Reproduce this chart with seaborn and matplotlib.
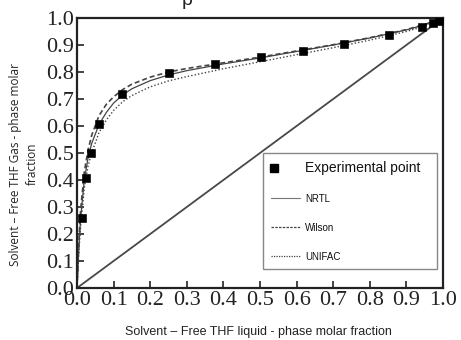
import matplotlib
matplotlib.use("Agg")
import matplotlib.pyplot as plt
import seaborn as sns
from matplotlib.lines import Line2D
from matplotlib.legend_handler import HandlerLine2D

# Experimental points
exp_x = [0.013, 0.025, 0.038, 0.060, 0.123, 0.250, 0.377, 0.503, 0.617, 0.730, 0.853, 0.942, 0.973, 0.990]
exp_y = [0.260, 0.407, 0.500, 0.607, 0.718, 0.796, 0.830, 0.855, 0.878, 0.904, 0.937, 0.967, 0.980, 0.990]

# Model curves
curve_x = [0.0, 0.005, 0.01, 0.02, 0.03, 0.04, 0.06, 0.08, 0.10, 0.125, 0.15, 0.20, 0.25, 0.30, 0.40, 0.50, 0.60, 0.70, 0.80, 0.90, 0.95, 1.0]
nrtl_y = [0.0, 0.15, 0.26, 0.40, 0.48, 0.535, 0.605, 0.65, 0.685, 0.715, 0.738, 0.768, 0.789, 0.805, 0.830, 0.852, 0.876, 0.900, 0.926, 0.956, 0.975, 1.0]
wilson_y = [0.0, 0.17, 0.29, 0.43, 0.51, 0.565, 0.638, 0.68, 0.708, 0.735, 0.755, 0.781, 0.800, 0.813, 0.834, 0.855, 0.878, 0.901, 0.927, 0.957, 0.976, 1.0]
unifac_y = [0.0, 0.13, 0.23, 0.37, 0.45, 0.50, 0.575, 0.622, 0.658, 0.690, 0.713, 0.745, 0.767, 0.783, 0.812, 0.838, 0.864, 0.890, 0.918, 0.950, 0.970, 1.0]
diag = [0.0, 1.0]

xticks = [0.0, 0.1, 0.2, 0.3, 0.4, 0.5, 0.6, 0.7, 0.8, 0.9, 1.0]
yticks = [0.0, 0.1, 0.2, 0.3, 0.4, 0.5, 0.6, 0.7, 0.8, 0.9, 1.0]
legend_labels = ["Experimental point", "NRTL", "Wilson", "UNIFAC"]

sns.set_style("white")
plt.rcParams['font.family'] = ['Liberation Sans', 'DejaVu Sans']

fig = plt.figure(figsize=(4.61, 3.40), dpi=100)
ax = fig.add_axes([77/461, 1 - 288/340, 366/461, 270/340])

sns.lineplot(x=diag, y=diag, ax=ax, color="#484848", lw=1.3)
sns.lineplot(x=curve_x, y=unifac_y, ax=ax, color="#444444", lw=1.0, linestyle=(0, (1, 1.5)))
sns.lineplot(x=curve_x, y=wilson_y, ax=ax, color="#444444", lw=1.2, linestyle=(0, (3, 1.8)))
sns.lineplot(x=curve_x, y=nrtl_y, ax=ax, color="#444444", lw=0.9)
sns.scatterplot(x=exp_x, y=exp_y, ax=ax, marker="s", s=30, color="black", edgecolor="black", zorder=5)

ax.set_xlim(0, 1)
ax.set_ylim(0, 1)
ax.set_xticks(xticks)
ax.set_yticks(yticks)
ax.set_xticklabels([f"{v:.1f}" for v in xticks], family="Liberation Serif", fontsize=16, color="#222222")
ax.set_yticklabels([f"{v:.1f}" for v in yticks], family="Liberation Serif", fontsize=16, color="#222222")
ax.tick_params(axis="both", direction="in", length=5, width=1.2, color="#222222", pad=2,
               bottom=True, left=True, top=False, right=False)
for s in ax.spines.values():
    s.set_color("#222222")
    s.set_linewidth(1.6)

fig.text(258/461, 1 - 332/340, "Solvent \u2013 Free THF liquid - phase molar fraction",
         ha="center", va="center", fontsize=9, color="#222222")
fig.text(24/461, 1 - 164/340, "Solvent \u2013 Free THF Gas - phase molar\nfraction",
         ha="center", va="center", rotation=90, fontsize=8.5, family=["Open Sans", "DejaVu Sans"],
         color="#222222", multialignment="center", linespacing=1.35)
fig.text(187/461, 1 - 5/340, "p", ha="center", va="baseline", fontsize=14, color="#222222")


class LeftMarker(HandlerLine2D):
    def get_xdata(self, legend, xdescent, ydescent, width, height, fontsize):
        x = -xdescent + 0.12 * width
        return [x], [x]


handles = [
    Line2D([], [], marker="s", color="black", linestyle="none", markersize=6),
    Line2D([], [], color="#777777", lw=0.8),
    Line2D([], [], color="#444444", lw=0.9, linestyle=(0, (2, 1))),
    Line2D([], [], color="#444444", lw=0.9, linestyle=(0, (1, 1))),
]
leg = ax.legend(handles, legend_labels, loc="upper left",
                bbox_to_anchor=(186/366, 16/270, 174/366, 119/270), mode="expand",
                fontsize=7, frameon=True, fancybox=False, framealpha=1,
                handlelength=3.0, handletextpad=0.55,
                labelspacing=1.95, borderpad=0.8, borderaxespad=0,
                handler_map={handles[0]: LeftMarker(numpoints=1)})
leg.set_zorder(10)
leg.get_frame().set_edgecolor("#888888")
leg.get_frame().set_linewidth(1.0)
leg.get_texts()[0].set_fontsize(10)
for t in leg.get_texts():
    t.set_color("#111111")

fig.savefig("out.png", dpi=100)
